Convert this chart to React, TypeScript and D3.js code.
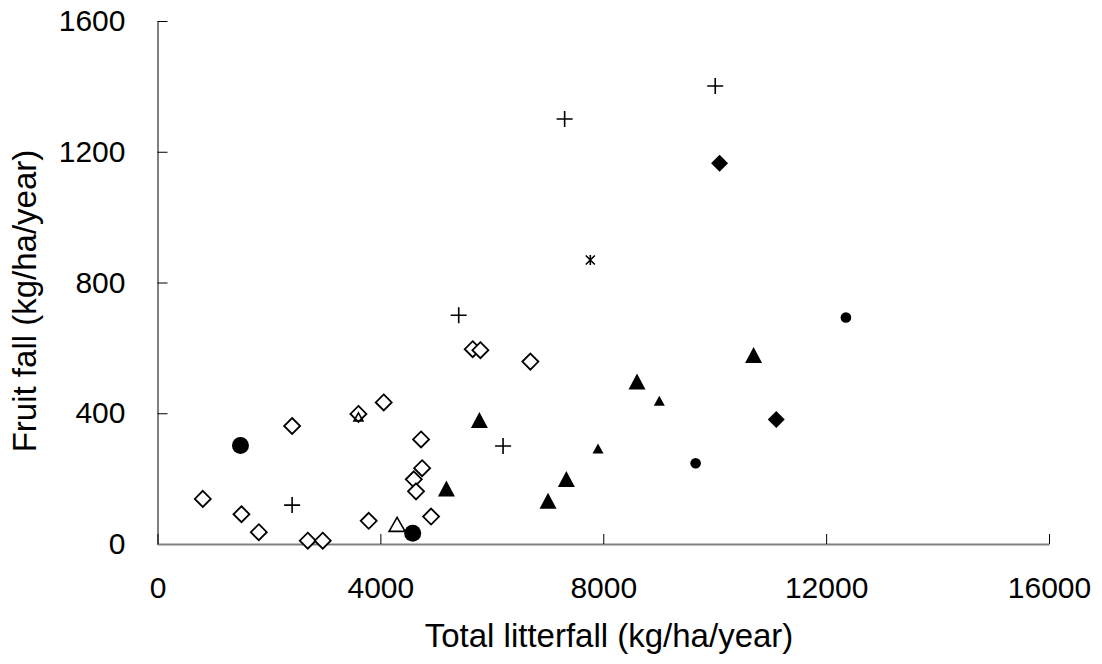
import React, { useRef, useEffect } from 'react'
import { select, scaleLinear, axisLeft, axisBottom } from 'd3'

// litterfall (kg/ha/year) vs fruit fall (kg/ha/year), one pair of arrays per marker group
const openDiamondX = [813, 1507, 1818, 2416, 2697, 2966, 3606, 3791, 4060, 4600, 4640, 4730, 4749, 4910, 5657, 5795, 6692]
const openDiamondY = [138, 91, 36, 361, 10, 10, 398, 71, 433, 198, 161, 320, 232, 84, 596, 593, 558]

const plusX = [2416, 5406, 6202, 7307, 10010]
const plusY = [119, 700, 300, 1300, 1401]

const bigCircleX = [1489, 4580]
const bigCircleY = [301, 33]

const smallCircleX = [9658, 12355]
const smallCircleY = [247, 693]

const bigTriangleX = [5185, 5777, 7009, 7338, 8606, 10698]
const bigTriangleY = [170, 379, 132, 199, 497, 578]

const smallTriangleX = [7906, 9006]
const smallTriangleY = [292, 438]

const filledDiamondX = [10088, 11105]
const filledDiamondY = [1165, 381]

const openTriangleSmallX = [3606]
const openTriangleSmallY = [389]

const openTriangleBigX = [4300]
const openTriangleBigY = [60]

const asteriskX = [7768]
const asteriskY = [869]

const xTicks = [0, 4000, 8000, 12000, 16000]
const yTicks = [0, 400, 800, 1200, 1600]

const W = 1102
const H = 664
const FONT = '"Liberation Sans", Arial, sans-serif'

const App = () => {
    const svgRef = useRef<SVGSVGElement>(null)

    useEffect(() => {
        const svg = select(svgRef.current)
        svg.selectAll('*').remove()

        const x = scaleLinear().domain([0, 16000]).range([157.5, 1049])
        const y = scaleLinear().domain([0, 1600]).range([544, 21])

        const yAxis = axisLeft(y).tickValues(yTicks).tickFormat(d => String(d))
            .tickSizeInner(-10).tickSizeOuter(0).tickPadding(32)
        const xAxis = axisBottom(x).tickValues(xTicks).tickFormat(d => String(d))
            .tickSizeInner(-10).tickSizeOuter(0).tickPadding(33)

        const gy = svg.append('g').attr('transform', `translate(${x(0)},0)`).call(yAxis)
        const gx = svg.append('g').attr('transform', `translate(0,${y(0)})`).call(xAxis)

        for (const g of [gx, gy]) {
            g.select('.domain').attr('stroke', '#808080').attr('stroke-width', 2)
            g.selectAll('.tick line').attr('stroke', '#000').attr('stroke-width', 1)
            g.selectAll('.tick text')
                .attr('fill', '#000')
                .style('font-family', FONT)
                .style('font-size', '30px')
        }

        const marks = svg.append('g')

        const pairs = (xs: number[], ys: number[]) => xs.map((v, i) => [x(v), y(ys[i])])

        // open diamonds
        marks.selectAll('.od').data(pairs(openDiamondX, openDiamondY)).join('path')
            .attr('d', d => `M${d[0]},${d[1] - 8}L${d[0] + 8},${d[1]}L${d[0]},${d[1] + 8}L${d[0] - 8},${d[1]}Z`)
            .attr('fill', '#fff').attr('stroke', '#000').attr('stroke-width', 1.8)

        // open triangles
        const tri = (cx: number, cy: number, w: number, h: number) =>
            `M${cx},${cy - h / 2}L${cx + w / 2},${cy + h / 2}L${cx - w / 2},${cy + h / 2}Z`

        marks.selectAll('.ots').data(pairs(openTriangleSmallX, openTriangleSmallY)).join('path')
            .attr('d', d => tri(d[0], d[1], 9, 8))
            .attr('fill', 'none').attr('stroke', '#000').attr('stroke-width', 1.6)

        marks.selectAll('.otb').data(pairs(openTriangleBigX, openTriangleBigY)).join('path')
            .attr('d', d => tri(d[0], d[1], 16, 14))
            .attr('fill', '#fff').attr('stroke', '#000').attr('stroke-width', 1.6)

        // plus signs
        marks.selectAll('.pl').data(pairs(plusX, plusY)).join('path')
            .attr('d', d => `M${d[0] - 8},${d[1]}H${d[0] + 8}M${d[0]},${d[1] - 8}V${d[1] + 8}`)
            .attr('stroke', '#000').attr('stroke-width', 1.6)

        // asterisk
        marks.selectAll('.as').data(pairs(asteriskX, asteriskY)).join('path')
            .attr('d', d => `M${d[0] - 4.5},${d[1] - 4.5}L${d[0] + 4.5},${d[1] + 4.5}M${d[0] + 4.5},${d[1] - 4.5}L${d[0] - 4.5},${d[1] + 4.5}M${d[0]},${d[1] - 5}V${d[1] + 5}`)
            .attr('stroke', '#000').attr('stroke-width', 1.6)

        // filled circles
        marks.selectAll('.bc').data(pairs(bigCircleX, bigCircleY)).join('circle')
            .attr('cx', d => d[0]).attr('cy', d => d[1]).attr('r', 8.5).attr('fill', '#000')

        marks.selectAll('.sc').data(pairs(smallCircleX, smallCircleY)).join('circle')
            .attr('cx', d => d[0]).attr('cy', d => d[1]).attr('r', 5.3).attr('fill', '#000')

        // filled triangles
        marks.selectAll('.bt').data(pairs(bigTriangleX, bigTriangleY)).join('path')
            .attr('d', d => tri(d[0], d[1], 17, 16)).attr('fill', '#000')

        marks.selectAll('.st').data(pairs(smallTriangleX, smallTriangleY)).join('path')
            .attr('d', d => tri(d[0], d[1], 11, 10)).attr('fill', '#000')

        // filled diamonds
        marks.selectAll('.fd').data(pairs(filledDiamondX, filledDiamondY)).join('path')
            .attr('d', d => `M${d[0]},${d[1] - 8.5}L${d[0] + 8.5},${d[1]}L${d[0]},${d[1] + 8.5}L${d[0] - 8.5},${d[1]}Z`)
            .attr('fill', '#000')

        svg.append('text')
            .attr('x', 609)
            .attr('y', 647)
            .style('text-anchor', 'middle')
            .style('font-family', FONT)
            .style('font-size', '33px')
            .text('Total litterfall (kg/ha/year)')

        svg.append('text')
            .attr('transform', 'translate(36,301) rotate(-90)')
            .style('text-anchor', 'middle')
            .style('font-family', FONT)
            .style('font-size', '33px')
            .text('Fruit fall (kg/ha/year)')
    }, [])

    return (
        <svg ref={svgRef} width={W} height={H}
            style={{ position: 'absolute', left: 0, top: 0, background: '#fff' }} />
    )
}

export default App
